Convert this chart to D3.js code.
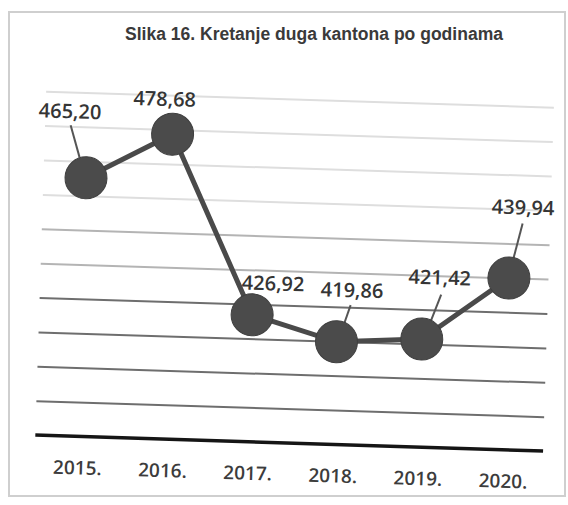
<!DOCTYPE html>
<html>
<head>
<meta charset="utf-8">
<script src="https://cdn.jsdelivr.net/npm/d3@7/dist/d3.min.js"></script>
<style>
  html, body { margin: 0; padding: 0; background: #ffffff; }
  svg { display: block; }
</style>
</head>
<body>
<svg id="chart" width="568" height="505"></svg>
<script>
// ---- data ----
const titleText = "Slika 16. Kretanje duga kantona po godinama";
const years = ["2015.", "2016.", "2017.", "2018.", "2019.", "2020."];
const debt = [465.20, 478.68, 426.92, 419.86, 421.42, 439.94];
const yDomain = [390, 490];
const gridValues = [400, 410, 420, 430, 440, 450, 460, 470, 480, 490];

// ---- layout (presentation only) ----
const labelOffsets = [[-18, -59], [-9, -28], [20, -25], [14, -45], [16, -55], [12, -64]];
const leaderLines = [[-17, -52, -7, -20], null, null, [13, -37, 7, -18], [18, -45, 8, -17], [12, -55, 4, -20]];

const svg = d3.select("#chart");
const W = 568, H = 505;

svg.append("rect").attr("width", W).attr("height", H).attr("fill", "#ffffff");

// scanned page frame
svg.append("rect")
  .attr("x", 9).attr("y", 12).attr("width", 556).attr("height", 484)
  .attr("fill", "none").attr("stroke", "#cfcfcf").attr("stroke-width", 2);

// title
svg.append("text")
  .attr("x", 125).attr("y", 40)
  .attr("textLength", 378).attr("lengthAdjust", "spacingAndGlyphs")
  .attr("font-family", "'Liberation Sans Narrow', 'Arial Narrow', 'Liberation Sans', Arial, sans-serif")
  .attr("font-weight", "bold")
  .attr("font-size", 18)
  .attr("fill", "#3a3a3a")
  .text(titleText);

const g = svg.append("g").attr("transform", "rotate(1.8, 290, 290)");

const x = d3.scalePoint().domain(years).range([40, 551]).padding(0.5);
const y = d3.scaleLinear().domain(yDomain).range([443, 99]);
const xLeft = 40, xRight = 548;

// gridlines
const grid = g.append("g").attr("transform", `translate(${xLeft},0)`)
  .call(d3.axisLeft(y).tickValues(gridValues).tickSize(-(xRight - xLeft)).tickFormat(""));
grid.select(".domain").remove();
grid.selectAll(".tick line")
  .attr("stroke", d => d <= 430 ? "#6e6e6e" : (d <= 450 ? "#b4b4b4" : "#dedede"))
  .attr("stroke-width", 2);

// baseline
g.append("line")
  .attr("x1", xLeft).attr("x2", xRight)
  .attr("y1", y(yDomain[0])).attr("y2", y(yDomain[0]))
  .attr("stroke", "#151515").attr("stroke-width", 3.5);

// x axis labels
const xAxis = g.append("g").attr("transform", `translate(0,${y(yDomain[0])})`)
  .call(d3.axisBottom(x).tickSize(0));
xAxis.select(".domain").remove();
xAxis.selectAll(".tick text")
  .attr("y", 38).attr("dy", 0)
  .attr("font-family", "'Open Sans', 'Noto Sans', sans-serif")
  .attr("font-size", 19)
  .attr("font-weight", 600)
  .attr("fill", "#3c3c3c");

// line
const line = d3.line().x((d, i) => x(years[i])).y(d => y(d));
g.append("path")
  .datum(debt)
  .attr("d", line)
  .attr("fill", "none")
  .attr("stroke", "#4a4a4a")
  .attr("stroke-width", 5);

// leader lines
g.append("g").selectAll("line")
  .data(debt.map((v, i) => ({ v, i, l: leaderLines[i] })).filter(d => d.l))
  .join("line")
  .attr("x1", d => x(years[d.i]) + d.l[0])
  .attr("y1", d => y(d.v) + d.l[1])
  .attr("x2", d => x(years[d.i]) + d.l[2])
  .attr("y2", d => y(d.v) + d.l[3])
  .attr("stroke", "#555").attr("stroke-width", 2);

// markers
g.append("g").selectAll("circle")
  .data(debt)
  .join("circle")
  .attr("cx", (d, i) => x(years[i]))
  .attr("cy", d => y(d))
  .attr("r", 21)
  .attr("fill", "#4b4b4b")
  .attr("stroke", "#3f3f3f")
  .attr("stroke-width", 1);

// data labels
const fmt = v => d3.format(".2f")(v).replace(".", ",");
g.append("g").selectAll("text")
  .data(debt)
  .join("text")
  .attr("x", (d, i) => x(years[i]) + labelOffsets[i][0])
  .attr("y", (d, i) => y(d) + labelOffsets[i][1])
  .attr("text-anchor", "middle")
  .attr("font-family", "'Open Sans', 'Noto Sans', sans-serif")
  .attr("font-size", 20)
  .attr("font-weight", 600)
  .attr("fill", "#353535")
  .text(d => fmt(d));
</script>
</body>
</html>
